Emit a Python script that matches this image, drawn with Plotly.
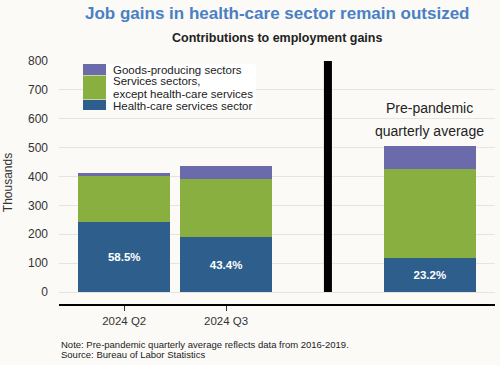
import plotly.graph_objects as go

x_pos = [0, 1, 3]
tick_labels = ["2024 Q2", "2024 Q3"]
health = [241, 189, 117]
services = [160, 201, 308]
goods = [11, 46, 80]
share_labels = ["58.5%", "43.4%", "23.2%"]
y_ticks = [0, 100, 200, 300, 400, 500, 600, 700, 800]
legend_lines = ["Goods-producing sectors", "Services sectors,",
                "except health-care services", "Health-care services sector"]

FONT = "Liberation Sans, Arial, sans-serif"
BLUE = "#2e5f8c"
GREEN = "#8aaf41"
PURPLE = "#6b6aaa"
BG = "#fbfaf7"

W, H = 500, 365
ML, MR, MT, MB = 59, 5, 61, 61
PW = W - ML - MR
PH = H - MT - MB


def px(x):
    return (x - ML) / PW


def py(y):
    return (H - MB - y) / PH


fig = go.Figure()
fig.add_trace(go.Bar(x=x_pos, y=health, name="Health-care services sector",
                     marker=dict(color=BLUE, line=dict(width=0)), width=0.9,
                     text=share_labels, textposition="inside", insidetextanchor="middle",
                     textangle=0,
                     textfont=dict(color="white", size=11.5, family=FONT, weight="bold"),
                     hoverinfo="skip"))
fig.add_trace(go.Bar(x=x_pos, y=services, name="Services sectors, except health-care services",
                     marker=dict(color=GREEN, line=dict(width=0)), width=0.9, hoverinfo="skip"))
fig.add_trace(go.Bar(x=x_pos, y=goods, name="Goods-producing sectors",
                     marker=dict(color=PURPLE, line=dict(width=0)), width=0.9, hoverinfo="skip"))

# Separator line
fig.add_shape(type="line", x0=2, x1=2, y0=0, y1=800, xref="x", yref="y",
              line=dict(color="black", width=8))

# Custom legend
fig.add_shape(type="rect", xref="paper", yref="paper",
              x0=px(83), x1=px(256), y0=py(110), y1=py(64),
              fillcolor="white", line=dict(width=0), layer="above")
legend_boxes = [(64, 75, PURPLE), (75.5, 99.5, GREEN), (100, 110, BLUE)]
for (t, b, c) in legend_boxes:
    fig.add_shape(type="rect", xref="paper", yref="paper",
                  x0=px(83), x1=px(106), y0=py(b), y1=py(t),
                  fillcolor=c, line=dict(width=0), layer="above")
legend_text_y = [70, 80.5, 94, 105.5]
for name, ty in zip(legend_lines, legend_text_y):
    fig.add_annotation(x=px(111), y=py(ty), xref="paper", yref="paper",
                       xanchor="left", yanchor="middle", align="left", showarrow=False,
                       text=name, font=dict(size=11.5, color="#222", family=FONT))

fig.add_annotation(x=3, y=py(108), xref="x", yref="paper",
                   text="Pre-pandemic", showarrow=False, yanchor="middle",
                   font=dict(size=14, color="#222", family=FONT))
fig.add_annotation(x=3, y=py(131), xref="x", yref="paper",
                   text="quarterly average", showarrow=False, yanchor="middle",
                   font=dict(size=14, color="#222", family=FONT))

fig.add_annotation(x=0.5, y=py(13), xref="paper", yref="paper",
                   text="Job gains in health-care sector remain outsized", showarrow=False,
                   yanchor="middle",
                   font=dict(size=17, color="#4a80c4", family=FONT, weight="bold"))
fig.add_annotation(x=0.5, y=py(38), xref="paper", yref="paper",
                   text="Contributions to employment gains", showarrow=False,
                   yanchor="middle",
                   font=dict(size=12.5, color="#222", family=FONT, weight="bold"))
fig.add_annotation(x=0, y=py(344), xref="paper", yref="paper", xanchor="left", yanchor="middle",
                   align="left", showarrow=False,
                   text="Note: Pre-pandemic quarterly average reflects data from 2016-2019.",
                   font=dict(size=9.5, color="#222", family=FONT))
fig.add_annotation(x=0, y=py(354.5), xref="paper", yref="paper", xanchor="left", yanchor="middle",
                   align="left", showarrow=False,
                   text="Source: Bureau of Labor Statistics",
                   font=dict(size=9.5, color="#222", family=FONT))

fig.update_layout(
    width=W, height=H,
    barmode="stack",
    paper_bgcolor=BG, plot_bgcolor=BG,
    margin=dict(l=ML, r=MR, t=MT, b=MB, autoexpand=False),
    font=dict(family=FONT, color="#333", size=12),
    showlegend=False,
    xaxis=dict(range=[-0.64, 3.64], tickmode="array", tickvals=[0, 1],
               ticktext=tick_labels, showgrid=False, zeroline=False,
               showline=True, linecolor="black", linewidth=2,
               ticks="outside", ticklen=5, tickcolor="#333",
               tickfont=dict(size=11.5, color="#333")),
    yaxis=dict(range=[-41.5, 800], tickvals=y_ticks, showgrid=True,
               gridcolor="#e6e4df", gridwidth=1, zeroline=False,
               title=dict(text="Thousands", font=dict(size=12, color="#333"), standoff=12),
               tickfont=dict(size=12, color="#333"), ticks="", ticklabelstandoff=10),
    bargap=0.1,
)

fig.write_html("out.html", config={"displayModeBar": False},
               post_script="document.body.style.margin='0';document.body.style.padding='0';")
